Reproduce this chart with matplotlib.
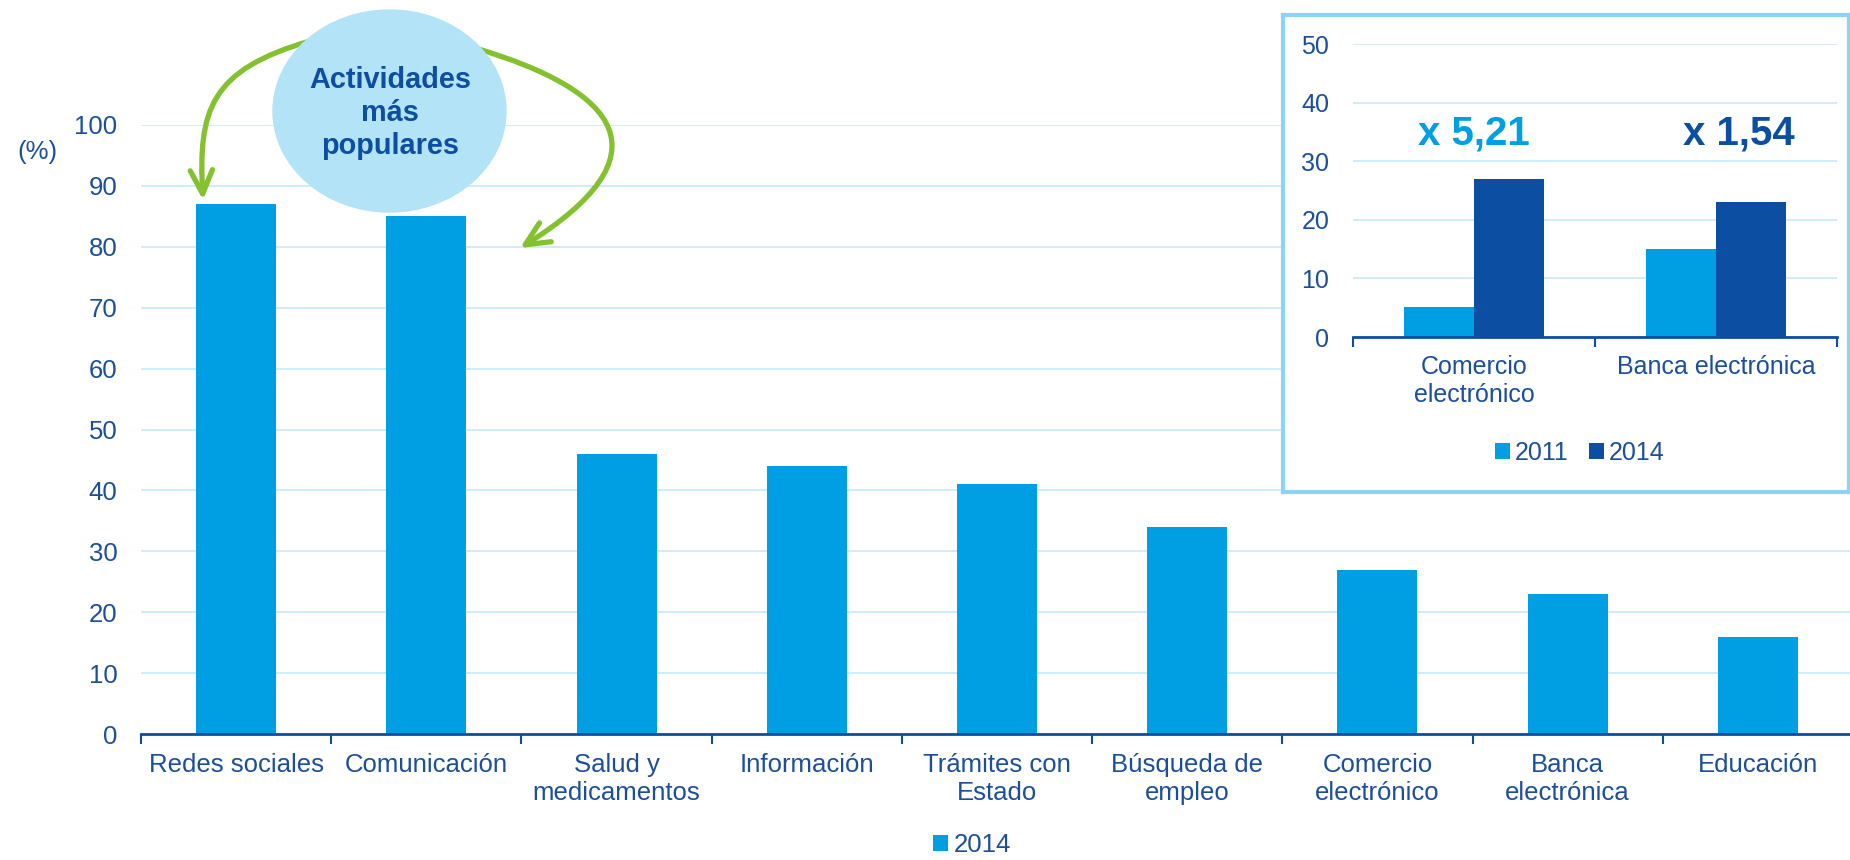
import matplotlib
matplotlib.use('Agg')
import matplotlib.pyplot as plt
from matplotlib.patches import Ellipse, FancyArrowPatch, ArrowStyle
from matplotlib.path import Path
import numpy as np

plt.rcParams['font.family'] = ['Liberation Sans', 'DejaVu Sans']

# datos grafico principal (2014, %)
actividades = ['Redes sociales', 'Comunicación', 'Salud y\nmedicamentos', 'Información',
               'Trámites con\nEstado', 'Búsqueda de\nempleo', 'Comercio\nelectrónico',
               'Banca\nelectrónica', 'Educación']
valores_2014 = [87, 85, 46, 44, 41, 34, 27, 23, 16]
yticks_main = list(range(0, 101, 10))

# datos recuadro 2011 vs 2014
cat_recuadro = ['Comercio\nelectrónico', 'Banca electrónica']
rec_2011 = [5.2, 15]
rec_2014 = [27, 23]
ratios = ['x 5,21', 'x 1,54']
yticks_rec = list(range(0, 51, 10))

# colores
celeste = '#009FE3'
oscuro = '#0B4EA2'
txt = '#1B4F9C'
grid_c = '#CBEAF8'
borde = '#8ED3F4'
burbuja = '#B3E3F7'
verde = '#84C12E'

W, H = 1850, 860
def fr(x0, y0, x1, y1):
    return [x0 / W, 1 - y1 / H, (x1 - x0) / W, (y1 - y0) / H]

fig = plt.figure(figsize=(W / 100, H / 100), dpi=100)

# --- grafico principal
ax = fig.add_axes(fr(141, 125, 1853, 734))
x = np.arange(len(actividades))
ax.bar(x, valores_2014, width=0.42, color=celeste, zorder=3, label='2014')
ax.set_xlim(-0.5, len(actividades) - 0.5)
ax.set_ylim(0, 100)
ax.set_yticks(yticks_main)
ax.grid(axis='y', color=grid_c, lw=1.3, zorder=0)
for s in ['top', 'right', 'left']:
    ax.spines[s].set_visible(False)
ax.spines['bottom'].set_color(oscuro)
ax.spines['bottom'].set_linewidth(2)
ax.spines['bottom'].set_zorder(4)
ax.set_xticks(x)
ax.set_xticklabels(actividades)
ax.set_xticks(np.arange(-0.5, len(actividades), 1), minor=True)
ax.tick_params(axis='x', which='major', length=0, pad=14, labelsize=18.5, labelcolor=txt)
ax.tick_params(axis='x', which='minor', length=7, width=1.5, color=oscuro)
ax.tick_params(axis='y', length=0, pad=17, labelsize=18.5, labelcolor=txt)
fig.text(37 / W, 1 - 152 / H, '(%)', ha='center', va='center', fontsize=18.5, color=txt)
ax.legend(loc='center', bbox_to_anchor=(972 / W, 1 - 845 / H), bbox_transform=fig.transFigure,
          frameon=False, handlelength=0.6, handleheight=0.6, handletextpad=0.2,
          fontsize=18.5, labelcolor=txt, borderpad=0.1)

# --- burbuja y flechas
ov = fig.add_axes([0, 0, 1, 1])
ov.set_xlim(0, W)
ov.set_ylim(H, 0)
ov.axis('off')
ov.add_patch(Ellipse((389.5, 111), 233, 202, color=burbuja, zorder=3))
ov.text(390, 113, 'Actividades\nmás\npopulares', ha='center', va='center', fontsize=20.8,
        fontweight='bold', color=oscuro, linespacing=1.25, zorder=4)
estilo = ArrowStyle('->', head_length=17, head_width=8)
cod = [Path.MOVETO, Path.CURVE4, Path.CURVE4, Path.CURVE4]
izq = Path([(310, 41), (210, 70), (198, 110), (203, 200)], cod)
der = Path([(475, 48), (620, 91), (670, 155), (520, 248)], cod)
for p in [izq, der]:
    ov.add_patch(FancyArrowPatch(path=p, arrowstyle=estilo, mutation_scale=1, lw=3.8,
                                 color=verde, zorder=2))

# --- recuadro
marco = fig.add_axes(fr(1283, 15, 1849, 492))
marco.set_facecolor('white')
marco.set_xticks([])
marco.set_yticks([])
for s in marco.spines.values():
    s.set_color(borde)
    s.set_linewidth(3)

ax_in = fig.add_axes(fr(1353, 44, 1837, 337))
ax_in.patch.set_alpha(0)
xr = np.arange(len(cat_recuadro))
ax_in.bar(xr - 0.145, rec_2011, width=0.29, color=celeste, zorder=3, label='2011')
ax_in.bar(xr + 0.145, rec_2014, width=0.29, color=oscuro, zorder=3, label='2014')
ax_in.set_xlim(-0.5, len(cat_recuadro) - 0.5)
ax_in.set_ylim(0, 50)
ax_in.set_yticks(yticks_rec)
ax_in.grid(axis='y', color=grid_c, lw=1.3, zorder=0)
for s in ['top', 'right', 'left']:
    ax_in.spines[s].set_visible(False)
ax_in.spines['bottom'].set_color(oscuro)
ax_in.spines['bottom'].set_linewidth(2)
ax_in.spines['bottom'].set_zorder(4)
ax_in.set_xticks(xr)
ax_in.set_xticklabels(cat_recuadro)
ax_in.set_xticks(np.arange(-0.5, len(cat_recuadro), 1), minor=True)
ax_in.tick_params(axis='x', which='major', length=0, pad=13, labelsize=18, labelcolor=txt)
ax_in.tick_params(axis='x', which='minor', length=7, width=1.5, color=oscuro)
ax_in.tick_params(axis='y', length=0, pad=17, labelsize=18, labelcolor=txt)
ax_in.text(0, 34.8, ratios[0], ha='center', va='center', fontsize=29, fontweight='bold', color=celeste)
ax_in.text(1.095, 34.8, ratios[1], ha='center', va='center', fontsize=29, fontweight='bold', color=oscuro)
ax_in.legend(loc='center', ncol=2, bbox_to_anchor=(1580 / W, 1 - 453 / H), bbox_transform=fig.transFigure,
             frameon=False, handlelength=0.6, handleheight=0.6, handletextpad=0.2, columnspacing=0.8,
             fontsize=18, labelcolor=txt)

fig.savefig('out.png', dpi=100)
